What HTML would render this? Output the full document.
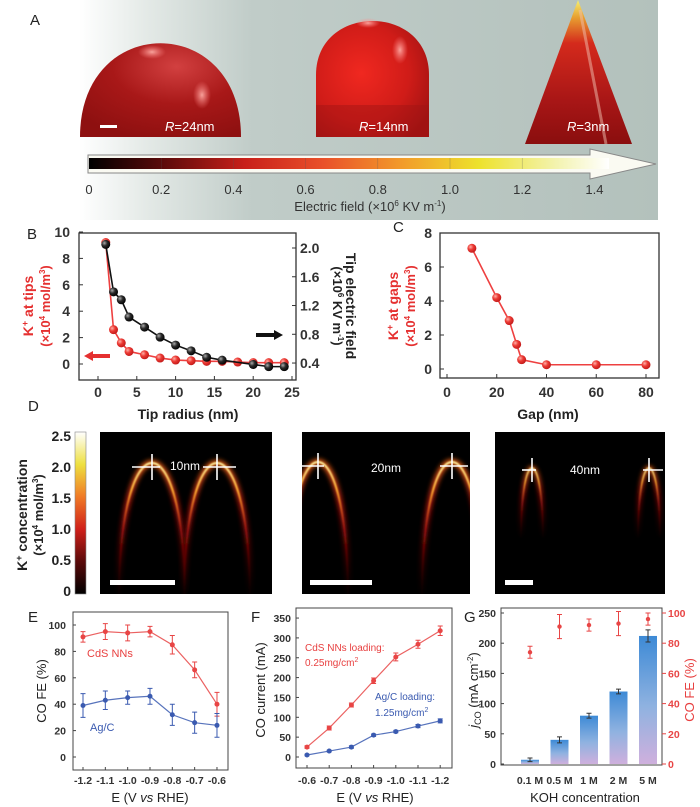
<!DOCTYPE html>
<html><head><meta charset="utf-8"><style>
html,body{margin:0;padding:0;background:#fff;}
svg{display:block;font-family:"Liberation Sans",Arial,sans-serif;}
</style></head><body>
<svg id="fig" width="700" height="807" viewBox="0 0 700 807" xmlns="http://www.w3.org/2000/svg">
<defs>
<linearGradient id="bgA" x1="0" x2="1" y1="0" y2="0">
<stop offset="0" stop-color="#ffffff"/><stop offset="0.12" stop-color="#e3e9e6"/><stop offset="0.3" stop-color="#c0ccc8"/><stop offset="1" stop-color="#b3c1bc"/></linearGradient>
<linearGradient id="cmap" x1="0" x2="1" y1="0" y2="0">
<stop offset="0" stop-color="#000"/><stop offset="0.14" stop-color="#5a0a0a"/><stop offset="0.3" stop-color="#c8201a"/><stop offset="0.45" stop-color="#e9502a"/><stop offset="0.6" stop-color="#f29a2a"/><stop offset="0.75" stop-color="#ede22c"/><stop offset="0.9" stop-color="#f3f3b0"/><stop offset="1" stop-color="#ffffff"/></linearGradient>
<linearGradient id="cmapV" x1="0" x2="0" y1="1" y2="0">
<stop offset="0" stop-color="#000"/><stop offset="0.2" stop-color="#5a0a0a"/><stop offset="0.4" stop-color="#d0201a"/><stop offset="0.6" stop-color="#f07a26"/><stop offset="0.8" stop-color="#eee040"/><stop offset="1" stop-color="#ffffff"/></linearGradient>
<radialGradient id="dome1g" cx="0.6" cy="0.25" r="0.8"><stop offset="0" stop-color="#d24040"/><stop offset="0.5" stop-color="#a81818"/><stop offset="1" stop-color="#8e1010"/></radialGradient>
<radialGradient id="dome2g" cx="0.4" cy="0.45" r="0.7"><stop offset="0" stop-color="#f02820"/><stop offset="0.6" stop-color="#d01c18"/><stop offset="1" stop-color="#a01212"/></radialGradient>
<linearGradient id="coneg" x1="0" x2="0" y1="0" y2="1"><stop offset="0" stop-color="#f5f070"/><stop offset="0.12" stop-color="#e8a030"/><stop offset="0.3" stop-color="#d42a1c"/><stop offset="0.7" stop-color="#a81616"/><stop offset="1" stop-color="#8a0e0e"/></linearGradient>
<radialGradient id="hl"><stop offset="0" stop-color="#ffb0a8" stop-opacity="0.9"/><stop offset="1" stop-color="#ff8080" stop-opacity="0"/></radialGradient>
<linearGradient id="barg" x1="0" x2="0" y1="0" y2="1"><stop offset="0" stop-color="#3d8ad6"/><stop offset="0.55" stop-color="#8fb2e0"/><stop offset="1" stop-color="#cfb0dd"/></linearGradient>
<radialGradient id="ballR" cx="0.35" cy="0.35" r="0.7"><stop offset="0" stop-color="#ffb0a8"/><stop offset="0.45" stop-color="#ec3a34"/><stop offset="1" stop-color="#c01818"/></radialGradient>
<radialGradient id="ballK" cx="0.35" cy="0.35" r="0.7"><stop offset="0" stop-color="#aaaaaa"/><stop offset="0.45" stop-color="#2a2a2a"/><stop offset="1" stop-color="#000"/></radialGradient>
<filter id="blur3" x="-50%" y="-50%" width="200%" height="200%"><feGaussianBlur stdDeviation="2.5"/></filter>
<filter id="blur1" x="-50%" y="-50%" width="200%" height="200%"><feGaussianBlur stdDeviation="0.7"/></filter>
<linearGradient id="glowG" gradientUnits="objectBoundingBox" x1="0" x2="0" y1="0" y2="1"><stop offset="0" stop-color="#ff6a18"/><stop offset="0.3" stop-color="#b01410"/><stop offset="1" stop-color="#400000" stop-opacity="0"/></linearGradient>
<linearGradient id="coreG" gradientUnits="objectBoundingBox" x1="0" x2="0" y1="0" y2="1"><stop offset="0" stop-color="#fff3a0"/><stop offset="0.2" stop-color="#ffb030"/><stop offset="0.5" stop-color="#c01010" stop-opacity="0.6"/><stop offset="1" stop-color="#300000" stop-opacity="0"/></linearGradient>
<clipPath id="cp1"><rect x="100" y="432" width="172" height="162"/></clipPath>
<clipPath id="cp2"><rect x="302" y="432" width="168" height="162"/></clipPath>
<clipPath id="cp3"><rect x="495" y="432" width="170" height="162"/></clipPath>
</defs>

<!-- Panel A -->
<g>
<rect x="79" y="0" width="579" height="220" fill="url(#bgA)"/>
<text x="30" y="25" font-size="15" fill="#222">A</text>
<path d="M80,137 C80,12 241,12 241,137 Z" fill="url(#dome1g)"/>
<ellipse cx="152" cy="52" rx="14" ry="7" fill="url(#hl)"/>
<ellipse cx="202" cy="95" rx="9" ry="14" fill="url(#hl)"/>
<rect x="100" y="125" width="17" height="3" fill="#fff"/>
<text x="165" y="131" font-size="13" fill="#fff"><tspan font-style="italic">R</tspan>=24nm</text>
<path d="M316,137 L316,75 C316,3 429,3 429,75 L429,137 Z" fill="url(#dome2g)"/>
<rect x="316" y="105" width="113" height="32" fill="#a01414" opacity="0.45"/>
<ellipse cx="368" cy="23" rx="12" ry="5" fill="url(#hl)"/>
<ellipse cx="400" cy="50" rx="8" ry="14" fill="url(#hl)"/>
<text x="359" y="131" font-size="13" fill="#fff"><tspan font-style="italic">R</tspan>=14nm</text>
<polygon points="525,144 578,0 632,144" fill="url(#coneg)"/>
<line x1="580" y1="10" x2="606" y2="144" stroke="#f0c0b0" stroke-width="3" opacity="0.5"/>
<text x="567" y="131" font-size="13" fill="#fff"><tspan font-style="italic">R</tspan>=3nm</text>
<polygon points="88,155 590,155 590,149 656,164 590,179 590,173 88,173" fill="#fafaf2" stroke="#888" stroke-width="1"/>
<rect x="89" y="158" width="520" height="11" fill="url(#cmap)"/>
<g id="cbTicks" font-size="13" fill="#333" text-anchor="middle"></g>
<text x="370" y="211" font-size="13" fill="#333" text-anchor="middle">Electric field  (×10<tspan dy="-5" font-size="8">6</tspan><tspan dy="5"> KV m</tspan><tspan dy="-5" font-size="8">-1</tspan><tspan dy="5">)</tspan></text>
</g>

<!-- Panel B -->
<g id="panelB">
<text x="27" y="239" font-size="15" fill="#222">B</text>
<rect x="79" y="233" width="217" height="147" fill="#fff" stroke="#333" stroke-width="1.3"/>
<text transform="translate(33,306) rotate(-90)" font-size="14" font-weight="bold" fill="#e53030" text-anchor="middle">K<tspan dy="-5" font-size="9">+</tspan><tspan dy="5"> at tips</tspan></text>
<text transform="translate(50,306) rotate(-90)" font-size="13" font-weight="bold" fill="#e53030" text-anchor="middle">(×10<tspan dy="-5" font-size="8">4</tspan><tspan dy="5"> mol/m</tspan><tspan dy="-5" font-size="8">3</tspan><tspan dy="5">)</tspan></text>
<text transform="translate(346,306) rotate(90)" font-size="14" font-weight="bold" fill="#222" text-anchor="middle">Tip electric field</text>
<text transform="translate(333,306) rotate(90)" font-size="13" font-weight="bold" fill="#222" text-anchor="middle">(×10<tspan dy="-5" font-size="8">6</tspan><tspan dy="5"> KV m</tspan><tspan dy="-5" font-size="8">-1</tspan><tspan dy="5">)</tspan></text>
<text x="188" y="419" font-size="14" font-weight="bold" fill="#222" text-anchor="middle">Tip radius (nm)</text>
<polygon points="84,356 93,351 93,354 110,354 110,358 93,358 93,361" fill="#e53030"/>
<polygon points="283,335 274,330 274,333 256,333 256,337 274,337 274,340" fill="#111"/>
</g>

<!-- Panel C -->
<g id="panelC">
<text x="393" y="232" font-size="15" fill="#222">C</text>
<rect x="440" y="233" width="219" height="145" fill="#fff" stroke="#333" stroke-width="1.3"/>
<text transform="translate(398,306) rotate(-90)" font-size="14" font-weight="bold" fill="#e53030" text-anchor="middle">K<tspan dy="-5" font-size="9">+</tspan><tspan dy="5"> at gaps</tspan></text>
<text transform="translate(415,306) rotate(-90)" font-size="13" font-weight="bold" fill="#e53030" text-anchor="middle">(×10<tspan dy="-5" font-size="8">4</tspan><tspan dy="5"> mol/m</tspan><tspan dy="-5" font-size="8">3</tspan><tspan dy="5">)</tspan></text>
<text x="548" y="419" font-size="14" font-weight="bold" fill="#222" text-anchor="middle">Gap (nm)</text>
</g>

<!-- Panel D -->
<g id="panelD">
<text x="28" y="411" font-size="15" fill="#222">D</text>
<rect x="75" y="432" width="11" height="162" fill="url(#cmapV)" stroke="#888" stroke-width="0.6"/>
<text transform="translate(27,515) rotate(-90)" font-size="14" font-weight="bold" fill="#222" text-anchor="middle">K<tspan dy="-5" font-size="9">+</tspan><tspan dy="5"> concentration</tspan></text>
<text transform="translate(43,515) rotate(-90)" font-size="13" font-weight="bold" fill="#222" text-anchor="middle">(×10<tspan dy="-5" font-size="8">4</tspan><tspan dy="5"> mol/m</tspan><tspan dy="-5" font-size="8">3</tspan><tspan dy="5">)</tspan></text>
<g id="dTicks" font-size="14" font-weight="bold" fill="#222" text-anchor="end"></g>
<rect x="100" y="432" width="172" height="162" fill="#000"/>
<rect x="302" y="432" width="168" height="162" fill="#000"/>
<rect x="495" y="432" width="170" height="162" fill="#000"/>
<g id="domes"></g>
<rect x="110" y="580" width="65" height="5" fill="#fff"/>
<rect x="310" y="580" width="62" height="5" fill="#fff"/>
<rect x="505" y="580" width="28" height="5" fill="#fff"/>
<text x="170" y="470" font-size="12" fill="#fff">10nm</text>
<text x="371" y="472" font-size="12" fill="#fff">20nm</text>
<text x="570" y="474" font-size="12" fill="#fff">40nm</text>
</g>

<!-- Panel E -->
<g id="panelE">
<text x="28" y="622" font-size="15" fill="#222">E</text>
<rect x="73" y="612" width="155" height="158" fill="#fff" stroke="#444" stroke-width="1"/>
<text transform="translate(46,691) rotate(-90)" font-size="13" fill="#222" text-anchor="middle">CO FE (%)</text>
<text x="150" y="802" font-size="13" fill="#222" text-anchor="middle">E (V <tspan font-style="italic">vs</tspan> RHE)</text>
<text x="87" y="657" font-size="11" fill="#e84040">CdS NNs</text>
<text x="90" y="731" font-size="11" fill="#3a5ab0">Ag/C</text>
</g>

<!-- Panel F -->
<g id="panelF">
<text x="251" y="622" font-size="15" fill="#222">F</text>
<rect x="296" y="608" width="156" height="160" fill="#fff" stroke="#444" stroke-width="1"/>
<text transform="translate(265,690) rotate(-90)" font-size="13" fill="#222" text-anchor="middle">CO current (mA)</text>
<text x="375" y="802" font-size="13" fill="#222" text-anchor="middle">E (V <tspan font-style="italic">vs</tspan> RHE)</text>
<text x="305" y="651" font-size="10" fill="#e84040">CdS NNs loading:</text>
<text x="305" y="666" font-size="10" fill="#e84040">0.25mg/cm<tspan dy="-4" font-size="7">2</tspan></text>
<text x="375" y="700" font-size="10" fill="#3a5ab0">Ag/C loading:</text>
<text x="375" y="716" font-size="10" fill="#3a5ab0">1.25mg/cm<tspan dy="-4" font-size="7">2</tspan></text>
</g>

<!-- Panel G -->
<g id="panelG">
<text x="464" y="622" font-size="15" fill="#222">G</text>
<rect x="501" y="608" width="161" height="157" fill="#fff" stroke="#444" stroke-width="1"/>
<text transform="translate(478,690) rotate(-90)" font-size="13" fill="#222" text-anchor="middle"><tspan font-style="italic">j</tspan><tspan font-size="9" dy="3">CO</tspan><tspan dy="-3"> (mA cm</tspan><tspan dy="-5" font-size="8">-2</tspan><tspan dy="5">)</tspan></text>
<text transform="translate(694,690) rotate(-90)" font-size="13" fill="#e84040" text-anchor="middle">CO FE (%)</text>
<text x="585" y="802" font-size="13" fill="#222" text-anchor="middle">KOH concentration</text>
</g>
</svg>
<script>
// ---- Panel A colorbar ticks
const cbTickLabels = ["0","0.2","0.4","0.6","0.8","1.0","1.2","1.4"];
// ---- Panel B data
const bRadius = [1,2,3,4,6,8,10,12,14,16,18,20,22,24];
const bKtips = [9.2,2.6,1.6,0.95,0.7,0.45,0.3,0.25,0.2,0.2,0.15,0.1,0.1,0.1];
const bFieldRadius = [1,2,3,4,6,8,10,12,14,16,20,22,24];
const bField = [2.05,1.39,1.28,1.04,0.9,0.76,0.65,0.57,0.48,0.44,0.38,0.35,0.35];
const bXTicks = [0,5,10,15,20,25];
const bLTicks = [0,2,4,6,8,10];
const bRTicks = ["0.4","0.8","1.2","1.6","2.0"];
// ---- Panel C data
const cGap = [10,20,25,28,30,40,60,80];
const cKgaps = [7.1,4.2,2.85,1.45,0.55,0.25,0.25,0.25];
const cXTicks = [0,20,40,60,80];
const cYTicks = [0,2,4,6,8];
// ---- Panel D colorbar ticks
const dTicks = ["0","0.5","1.0","1.5","2.0","2.5"];
// ---- Panel E data
const ePot = ["-1.2","-1.1","-1.0","-0.9","-0.8","-0.7","-0.6"];
const eCds = [91,95,94,95,85,66,40];
const eCdsErr = [4,6,6,4,7,6,9];
const eAg = [39,43,45,46,32,26,24];
const eAgErr = [9,7,5,6,8,8,9];
const eYTicks = [0,20,40,60,80,100];
// ---- Panel F data
const fPot = ["-0.6","-0.7","-0.8","-0.9","-1.0","-1.1","-1.2"];
const fCds = [25,73,131,192,252,284,318];
const fCdsErr = [3,5,5,7,10,10,12];
const fAg = [5,15,25,55,64,78,91];
const fAgErr = [2,2,3,3,3,4,5];
const fYTicks = [0,50,100,150,200,250,300,350];
// ---- Panel G data
const gConc = ["0.1 M","0.5 M","1 M","2 M","5 M"];
const gJ = [7,40,80,120,212];
const gJErr = [3,5,4,4,10];
const gFE = [74,91,92,93,96];
const gFEErr = [4,8,4,8,4];
const gLTicks = [0,50,100,150,200,250];
const gRTicks = [0,20,40,60,80,100];

const NS="http://www.w3.org/2000/svg";
const svg=document.getElementById('fig');
function mk(tag,attrs,parent){const e=document.createElementNS(NS,tag);for(const k in attrs)e.setAttribute(k,attrs[k]);(parent||svg).appendChild(e);return e;}
function txt(s,attrs,parent){const e=mk('text',attrs,parent);e.textContent=s;return e;}

// Panel A ticks
const cbG=document.getElementById('cbTicks');
cbTickLabels.forEach((s,i)=>{const x=89+i*72.2;
 const t=txt(s,{x:x,y:194},cbG);
 
 
 if(i>0&&i<7){const l=mk('line',{x1:x,x2:x,y1:158,y2:169,stroke:'#555','stroke-width':0.5,opacity:0.5});
 
 }
});

// Panel B
const bG=document.getElementById('panelB');
const xB=v=>98+v*7.76, yBL=v=>364-v*13.2, yBR=v=>248+(2.0-v)*71.9;
bXTicks.forEach(v=>{mk('line',{x1:xB(v),x2:xB(v),y1:380,y2:376,stroke:'#333'},bG);
 const t=txt(String(v),{x:xB(v),y:397,'font-size':14,'font-weight':'bold',fill:'#333','text-anchor':'middle'},bG);
 
 });
bLTicks.forEach(v=>{mk('line',{x1:79,x2:83,y1:yBL(v),y2:yBL(v),stroke:'#333'},bG);
 const t=txt(String(v),{x:70,y:yBL(v)+5,'font-size':14,'font-weight':'bold',fill:'#333','text-anchor':'end'},bG);
 
 });
bRTicks.forEach(s=>{const v=parseFloat(s);mk('line',{x1:292,x2:296,y1:yBR(v),y2:yBR(v),stroke:'#333'},bG);
 const t=txt(s,{x:300,y:yBR(v)+5,'font-size':14,'font-weight':'bold',fill:'#333'},bG);
 
 });
{const pl=mk('polyline',{points:bRadius.map((r,i)=>xB(r)+','+yBL(bKtips[i])).join(' '),fill:'none',stroke:'#ee4040','stroke-width':1.6},bG);
 
 
 bRadius.forEach((r,i)=>{const c=mk('circle',{cx:xB(r),cy:yBL(bKtips[i]),r:4.5,fill:'url(#ballR)'},bG);
 
 });
 const pk=mk('polyline',{points:bFieldRadius.map((r,i)=>xB(r)+','+yBR(bField[i])).join(' '),fill:'none',stroke:'#111','stroke-width':1.6},bG);
 
 
 bFieldRadius.forEach((r,i)=>{const c=mk('circle',{cx:xB(r),cy:yBR(bField[i]),r:4.5,fill:'url(#ballK)'},bG);
 
 });
}

// Panel C
const cG=document.getElementById('panelC');
const xC=v=>447+v*2.4875, yC=v=>369-v*17;
cXTicks.forEach(v=>{mk('line',{x1:xC(v),x2:xC(v),y1:378,y2:374,stroke:'#333'},cG);
 const t=txt(String(v),{x:xC(v),y:397,'font-size':14,'font-weight':'bold',fill:'#333','text-anchor':'middle'},cG);
 
 });
cYTicks.forEach(v=>{mk('line',{x1:440,x2:444,y1:yC(v),y2:yC(v),stroke:'#333'},cG);
 const t=txt(String(v),{x:432,y:yC(v)+5,'font-size':14,'font-weight':'bold',fill:'#333','text-anchor':'end'},cG);
 
 });
{const pl=mk('polyline',{points:cGap.map((g,i)=>xC(g)+','+yC(cKgaps[i])).join(' '),fill:'none',stroke:'#ee4040','stroke-width':1.6},cG);
 
 
 cGap.forEach((g,i)=>{const c=mk('circle',{cx:xC(g),cy:yC(cKgaps[i]),r:4.5,fill:'url(#ballR)'},cG);
 
 });}

// Panel D colorbar ticks
const dG=document.getElementById('dTicks');
dTicks.forEach((s,i)=>{const t=txt(s,{x:71,y:591-i*31+5},dG);
 
 });
// domes
const domes=document.getElementById('domes');
function dome(cx,top,hw,bottom,clip,scale){
 const g=mk('g',{'clip-path':'url(#'+clip+')'},domes);
 
 
 const c=(top-0.25*bottom)/0.75;
 const d=`M${cx-hw},${bottom} C${cx-hw},${c} ${cx+hw},${c} ${cx+hw},${bottom}`;
 mk('path',{d:d,fill:'none',stroke:'url(#glowG)','stroke-width':6*scale,filter:'url(#blur3)',opacity:0.85},g);
 mk('path',{d:d,fill:'none',stroke:'url(#coreG)','stroke-width':2*scale,filter:'url(#blur1)'},g);
}
function cross(x,y,hl,hr,v){const g=mk('g',{stroke:'#fff','stroke-width':1.6},domes);
 
 
 mk('line',{x1:x-hl,x2:x+hr,y1:y,y2:y},g);mk('line',{x1:x,x2:x,y1:y-v,y2:y+v},g);}
dome(152,463,33,600,'cp1',1);dome(217,463,33,600,'cp1',1);
dome(318,462,30,600,'cp2',1);dome(452,462,30,600,'cp2',1);
dome(532,468,11,540,'cp3',0.7);dome(649,468,11,540,'cp3',0.7);
cross(152,467,20,8,13);cross(217,467,14,19,13);
cross(318,466,16,6,13);cross(452,466,12,16,13);
cross(532,470,10,4,12);cross(649,470,6,14,12);

// generic line chart w/ error bars
function lineErr(g,xs,ys,errs,color,xf,yf,name){
 const pl=mk('polyline',{points:xs.map((x,i)=>xf(i)+','+yf(ys[i])).join(' '),fill:'none',stroke:color,'stroke-width':1.2,opacity:0.85},g);
 
 
 xs.forEach((x,i)=>{const X=xf(i),Y=yf(ys[i]),t=yf(ys[i]+errs[i]),b=yf(ys[i]-errs[i]);
  const e=mk('path',{d:`M${X},${t}V${b}M${X-2.5},${t}h5M${X-2.5},${b}h5`,stroke:color,'stroke-width':1,fill:'none'},g);
  
  
  const c=mk('circle',{cx:X,cy:Y,r:2.5,fill:color},g);
  
  });
}
// Panel E
const eG=document.getElementById('panelE');
const xE=i=>83+i*22.33, yE=v=>757-v*1.32;
ePot.forEach((s,i)=>{mk('line',{x1:xE(i),x2:xE(i),y1:770,y2:767,stroke:'#444'},eG);
 const t=txt(s,{x:xE(i),y:784,'font-size':10.5,'font-weight':'bold',fill:'#333','text-anchor':'middle'},eG);
 
 });
eYTicks.forEach(v=>{mk('line',{x1:73,x2:76,y1:yE(v),y2:yE(v),stroke:'#444'},eG);
 const t=txt(String(v),{x:66,y:yE(v)+4,'font-size':10.5,'font-weight':'bold',fill:'#333','text-anchor':'end'},eG);
 
 });
lineErr(eG,ePot,eCds,eCdsErr,'#e84545',xE,yE,'e-cds');
lineErr(eG,ePot,eAg,eAgErr,'#3a5ab0',xE,yE,'e-agc');
// Panel F
const fG=document.getElementById('panelF');
const xF=i=>307+i*22.2, yF=v=>757-v*0.397;
fPot.forEach((s,i)=>{mk('line',{x1:xF(i),x2:xF(i),y1:768,y2:765,stroke:'#444'},fG);
 const t=txt(s,{x:xF(i),y:784,'font-size':10.5,'font-weight':'bold',fill:'#333','text-anchor':'middle'},fG);
 
 });
fYTicks.forEach(v=>{mk('line',{x1:296,x2:299,y1:yF(v),y2:yF(v),stroke:'#444'},fG);
 const t=txt(String(v),{x:291,y:yF(v)+4,'font-size':10.5,'font-weight':'bold',fill:'#333','text-anchor':'end'},fG);
 
 });
lineErr(fG,fPot,fCds,fCdsErr,'#e84545',xF,yF,'f-cds');
lineErr(fG,fPot,fAg,fAgErr,'#3a5ab0',xF,yF,'f-agc');
// Panel G
const gG=document.getElementById('panelG');
const xG=i=>530+i*29.5, yGL=v=>764-v*0.604, yGR=v=>764-v*1.51;
gConc.forEach((s,i)=>{const t=txt(s,{x:xG(i),y:784,'font-size':10.5,'font-weight':'bold',fill:'#333','text-anchor':'middle'},gG);
 
 });
gLTicks.forEach(v=>{mk('line',{x1:501,x2:504,y1:yGL(v),y2:yGL(v),stroke:'#444'},gG);
 const t=txt(String(v),{x:496,y:yGL(v)+4,'font-size':10.5,'font-weight':'bold',fill:'#333','text-anchor':'end'},gG);
 
 });
gRTicks.forEach(v=>{mk('line',{x1:662,x2:666,y1:yGR(v),y2:yGR(v),stroke:'#e84545'},gG);
 const t=txt(String(v),{x:668,y:yGR(v)+4,'font-size':10.5,'font-weight':'bold',fill:'#e84545'},gG);
 
 });
gConc.forEach((s,i)=>{const X=xG(i),Y=yGL(gJ[i]);
 const r=mk('rect',{x:X-9,y:Y,width:18,height:764-Y,fill:'url(#barg)'},gG);
 
 
 const e=mk('path',{d:`M${X},${yGL(gJ[i]+gJErr[i])}V${yGL(gJ[i]-gJErr[i])}M${X-2.5},${yGL(gJ[i]+gJErr[i])}h5M${X-2.5},${yGL(gJ[i]-gJErr[i])}h5`,stroke:'#333','stroke-width':1,fill:'none'},gG);
 
 
 const Yf=yGR(gFE[i]);
 const e2=mk('path',{d:`M${X},${yGR(gFE[i]+gFEErr[i])}V${yGR(gFE[i]-gFEErr[i])}M${X-2.5},${yGR(gFE[i]+gFEErr[i])}h5M${X-2.5},${yGR(gFE[i]-gFEErr[i])}h5`,stroke:'#e84545','stroke-width':1,fill:'none'},gG);
 
 
 const c=mk('circle',{cx:X,cy:Yf,r:2.2,fill:'#e84545'},gG);
 
 
});
</script>
</body></html>
